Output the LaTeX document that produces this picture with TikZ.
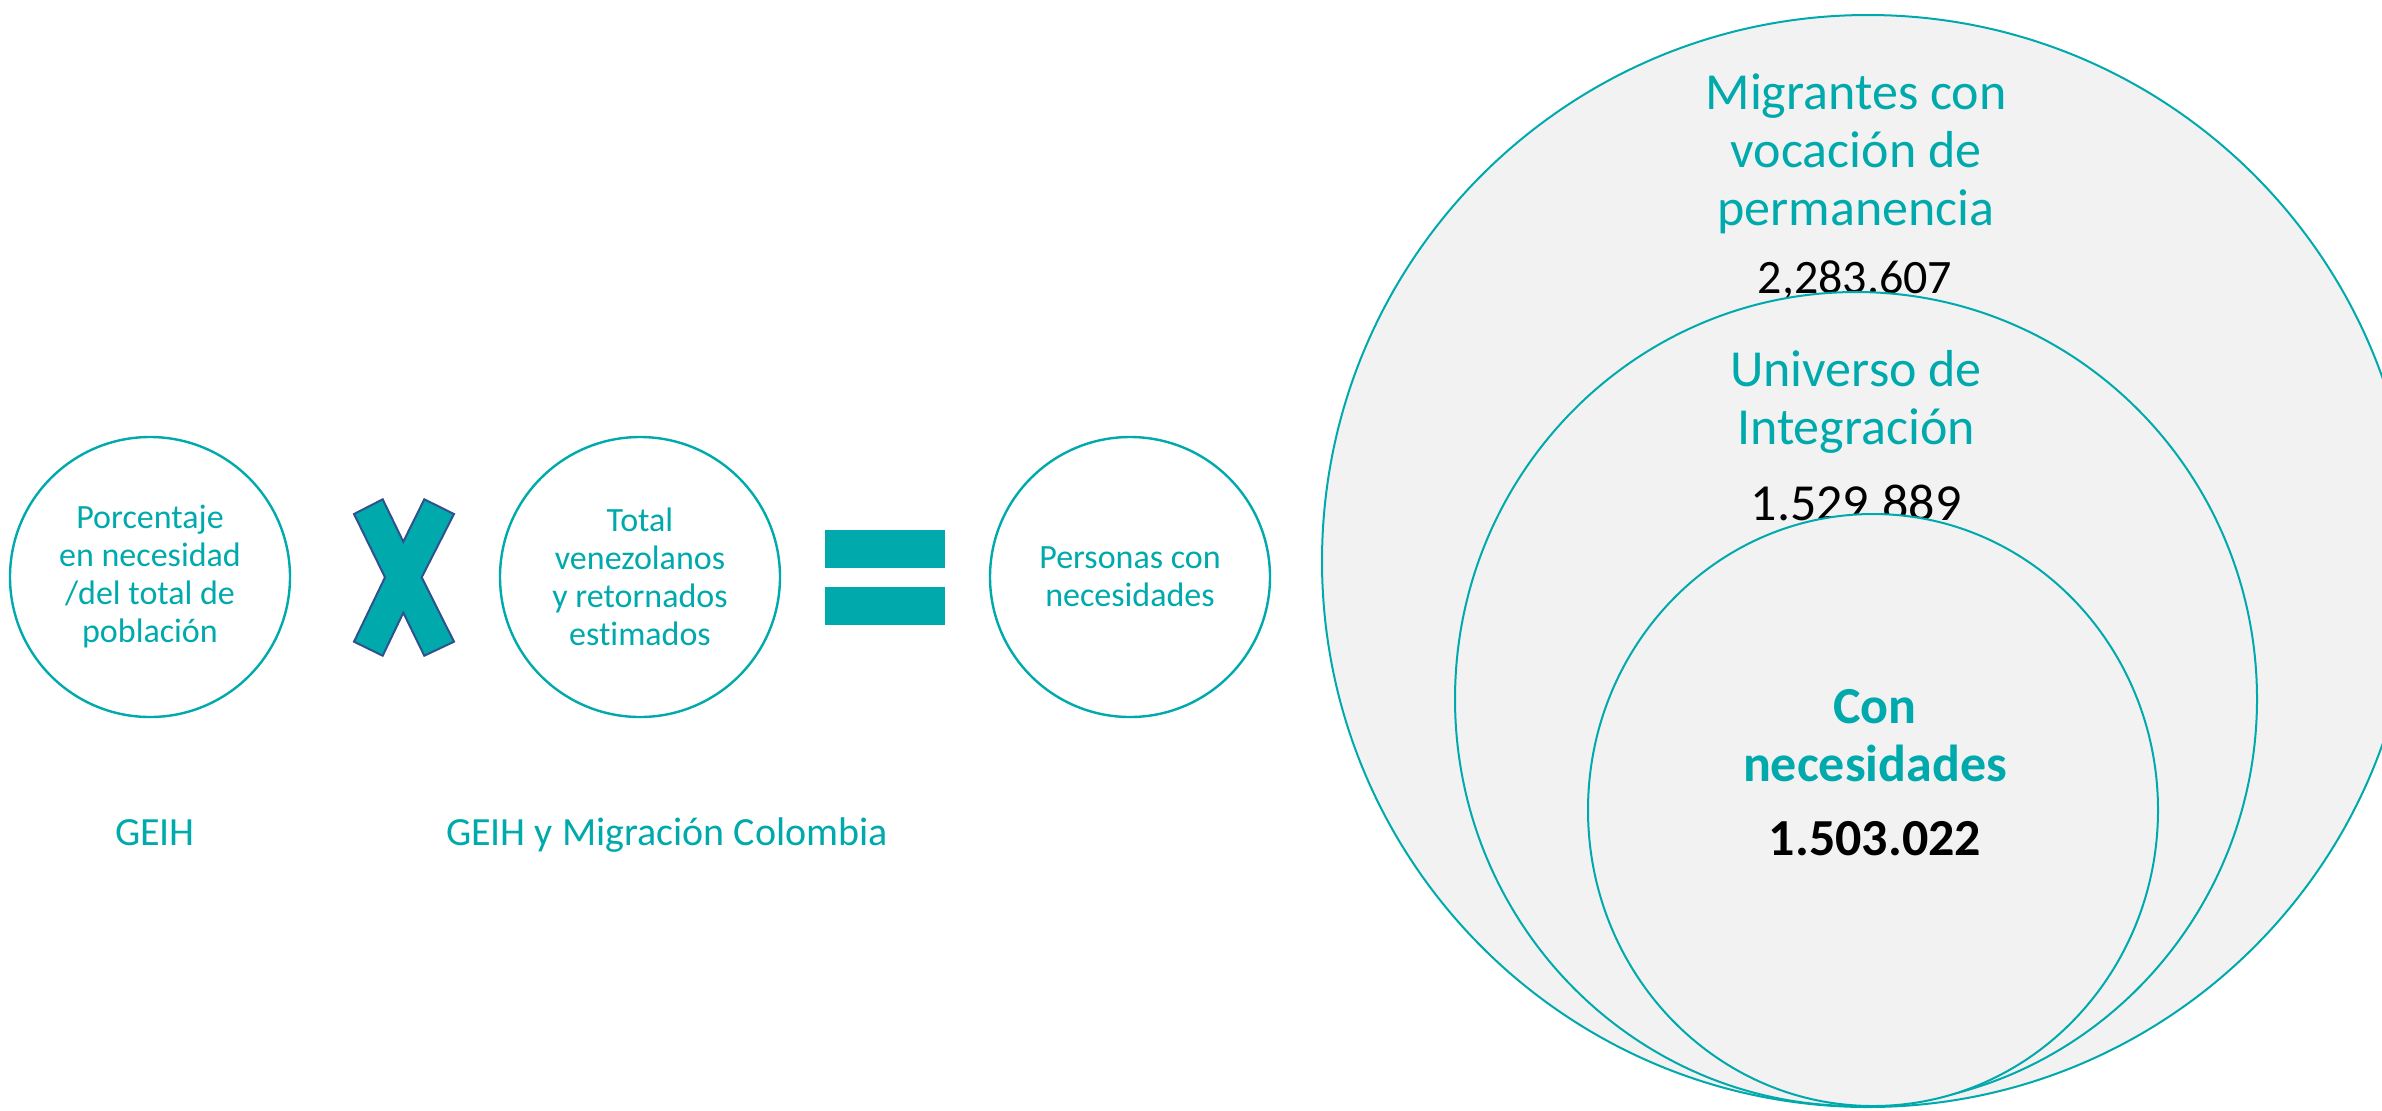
\documentclass[tikz,border=0pt]{standalone}
\usepackage{fontspec}
\setmainfont{Carlito}[Ligatures=NoCommon]
\usetikzlibrary{shapes.geometric}
\begin{document}
\begin{tikzpicture}[x=0.5pt,y=-0.5pt,
  ring/.style={circle,draw=verde,line width=1.2pt,minimum size=140pt,inner sep=0pt,
    text=verde,align=center,font=\fontsize{17}{19}\selectfont},
  fuente/.style={text=verde,anchor=base,font=\fontsize{20}{24}\selectfont},
  universo/.style={draw=verde,fill=gris,line width=1pt,inner sep=0pt},
  titulo/.style={text=verde,align=center,anchor=base,inner sep=0pt,font=\fontsize{26}{29}\selectfont},
  cifra/.style={anchor=base,inner sep=0pt,font=\fontsize{24}{29}\selectfont}]
  \definecolor{verde}{HTML}{00A9AC}
  \definecolor{azul}{HTML}{2F528F}
  \definecolor{gris}{HTML}{F2F2F2}
  \useasboundingbox (0,0) rectangle (2382,1110);
  \clip (0,0) rectangle (2382,1110);
  % factores
  \node[ring] (pct) at (150,577) {Porcentaje\\en necesidad\\/del total de\\población};
  \node[ring] (total) at (640,577) {Total\\venezolanos\\y retornados\\estimados};
  \node[ring] (pers) at (1130,577) {Personas con\\necesidades};
  \draw [fill=verde,draw=azul,line width=1pt] (354,514) -- (382.7,499.3) -- (403.3,541.7)
    -- (424.3,499.3) -- (454,514) -- (421.7,577.3) -- (454,641.7) -- (424.3,655.7)
    -- (403.3,612.7) -- (382.7,655.7) -- (354,641.7) -- (385,577.3) -- cycle;
  \fill [verde] (825,530) rectangle (945,568);
  \fill [verde] (825,587) rectangle (945,625);
  \node[fuente] (geih) at (155,845) {GEIH};
  \node[fuente] (geihmig) at (667,845) {GEIH y Migración Colombia};
  % universos
  \node[universo,circle,minimum size=546pt] (migr) at (1868,561) {};
  \node[titulo] (migrtxt) at (1856,225) {Migrantes con\\vocación de\\permanencia};
  \node[cifra] (migrnum) at (1855,293) {2,283.607};
  \node[universo,ellipse,minimum width=401pt,minimum height=407pt] (univ) at (1856,699) {};
  \node[titulo] (univtxt) at (1856,444) {Universo de\\Integración};
  \node[cifra,font=\fontsize{26}{29}\selectfont] (univnum) at (1856,520) {1.529.889};
  \node[universo,ellipse,minimum width=285pt,minimum height=296pt] (nec) at (1873,810) {};
  \node[titulo,font=\bfseries\fontsize{26}{29}\selectfont] (nectxt) at (1875,781) {Con\\necesidades};
  \node[cifra,font=\bfseries\fontsize{26}{29}\selectfont] (necnum) at (1875,855) {1.503.022};
\end{tikzpicture}
\end{document}
